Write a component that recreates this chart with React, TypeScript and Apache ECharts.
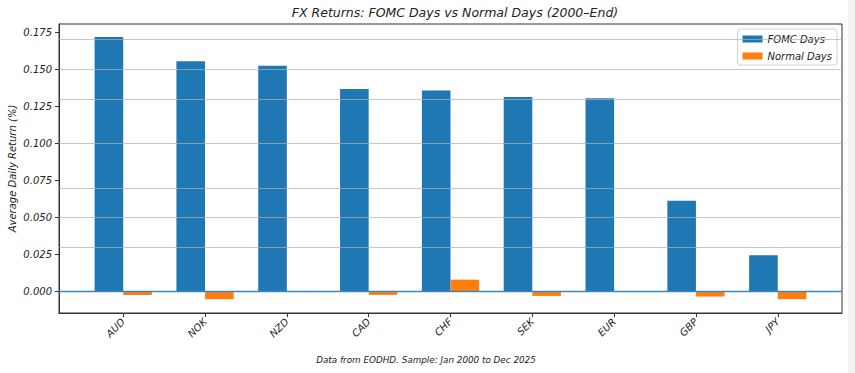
import React, { useEffect, useRef } from "react";
import * as echarts from "echarts";

const categories = ["AUD", "NOK", "NZD", "CAD", "CHF", "SEK", "EUR", "GBP", "JPY"];
const fomcDays = [0.1719, 0.1555, 0.1525, 0.1368, 0.1357, 0.1314, 0.1305, 0.0614, 0.0246];
const normalDays = [-0.0022, -0.0051, -0.0003, -0.0022, 0.0081, -0.0029, -0.0002, -0.0033, -0.0051];
const yTicks = [0, 0.025, 0.05, 0.075, 0.1, 0.125, 0.15, 0.175];

const FONT = "DejaVu Sans";
const TXT = "#222";

export default function App() {
  const ref = useRef<HTMLDivElement>(null);
  useEffect(() => {
    const chart = echarts.init(ref.current!, null, { renderer: "svg" });
    const half = 0.175;
    const xIdx = categories.map((_, i) => i);
    chart.setOption({
      animation: false,
      backgroundColor: "#ffffff",
      title: {
        text: "FX Returns: FOMC Days vs Normal Days (2000–End)",
        left: 450,
        top: 1,
        textAlign: "center",
        textStyle: { fontFamily: FONT, fontStyle: "italic", fontWeight: "normal", fontSize: 12.5, color: TXT },
      },
      legend: {
        right: 18,
        top: 29,
        orient: "vertical",
        itemWidth: 20,
        itemHeight: 7,
        itemGap: 7,
        padding: [5, 5, 4, 5],
        borderColor: "#d0d0d0",
        borderWidth: 1,
        borderRadius: 3,
        backgroundColor: "#fff",
        icon: "rect",
        textStyle: { fontFamily: FONT, fontStyle: "italic", fontSize: 10, color: TXT },
        data: ["FOMC Days", "Normal Days"],
      },
      grid: {
        left: 59,
        right: 13,
        top: 24,
        bottom: 60,
        show: true,
        borderColor: "#333",
        borderWidth: 1,
        containLabel: false,
        outerBoundsMode: "none",
      },
      xAxis: {
        type: "value",
        min: -0.785,
        max: 8.785,
        splitLine: { show: false },
        axisLine: { show: true, onZero: false, lineStyle: { color: "#333" } },
        axisTick: { show: true, length: 4, customValues: xIdx, lineStyle: { color: "#333" } },
        axisLabel: {
          customValues: xIdx,
          rotate: 45,
          margin: 7,
          fontFamily: FONT,
          fontStyle: "italic",
          fontSize: 10,
          color: TXT,
          formatter: (v: number) => categories[Math.round(v)] ?? "",
        },
      },
      yAxis: {
        type: "value",
        min: -0.0144,
        max: 0.1806,
        name: "Average Daily Return (%)",
        nameLocation: "middle",
        nameGap: 42,
        nameMoveOverlap: false,
        nameTextStyle: { fontFamily: FONT, fontStyle: "italic", fontSize: 10, color: TXT },
        splitLine: { show: false },
        axisLine: { show: true, onZero: false, lineStyle: { color: "#333" } },
        axisTick: { show: true, length: 4, customValues: yTicks, lineStyle: { color: "#333" } },
        axisLabel: {
          customValues: yTicks,
          margin: 7,
          fontFamily: FONT,
          fontStyle: "italic",
          fontSize: 10,
          color: TXT,
          formatter: (v: number) => v.toFixed(3),
        },
      },
      series: [
        {
          name: "FOMC Days",
          type: "bar",
          barWidth: 28.6,
          barGap: "-100%",
          itemStyle: { color: "#1f77b4" },
          data: fomcDays.map((v, i) => [i - half, v]),
          markLine: {
            silent: true,
            symbol: "none",
            label: { show: false },
            z: 10,
            data: [
              ...yTicks.filter((t) => t !== 0).map((t) => ({
                yAxis: t,
                lineStyle: { color: "#b0b0b0", width: 1, type: "solid", opacity: 0.7 },
              })),
            ],
          },
        },
        {
          name: "Normal Days",
          type: "bar",
          barWidth: 28.6,
          barGap: "-100%",
          itemStyle: { color: "#ff7f0e" },
          data: normalDays.map((v, i) => [i + half, v]),
          markLine: {
            silent: true,
            symbol: "none",
            label: { show: false },
            z: 11,
            data: [{ yAxis: 0, lineStyle: { color: "#3b87c0", width: 1.3, type: "solid" } }],
          },
        },
      ],
      graphic: [
        {
          type: "text",
          x: 426,
          y: 360,
          style: {
            text: "Data from EODHD. Sample: Jan 2000 to Dec 2025",
            fontFamily: FONT,
            fontStyle: "italic",
            fontSize: 8.8,
            fill: TXT,
            textAlign: "center",
            textVerticalAlign: "middle",
          },
        },
        { type: "rect", shape: { x: 848, y: 0, width: 7, height: 373 }, style: { fill: "#f3f3f3" } },
      ],
    });
    return () => chart.dispose();
  }, []);
  return (
    <div
      ref={ref}
      style={{ position: "absolute", left: 0, top: 0, width: 855, height: 373 }}
    />
  );
}
